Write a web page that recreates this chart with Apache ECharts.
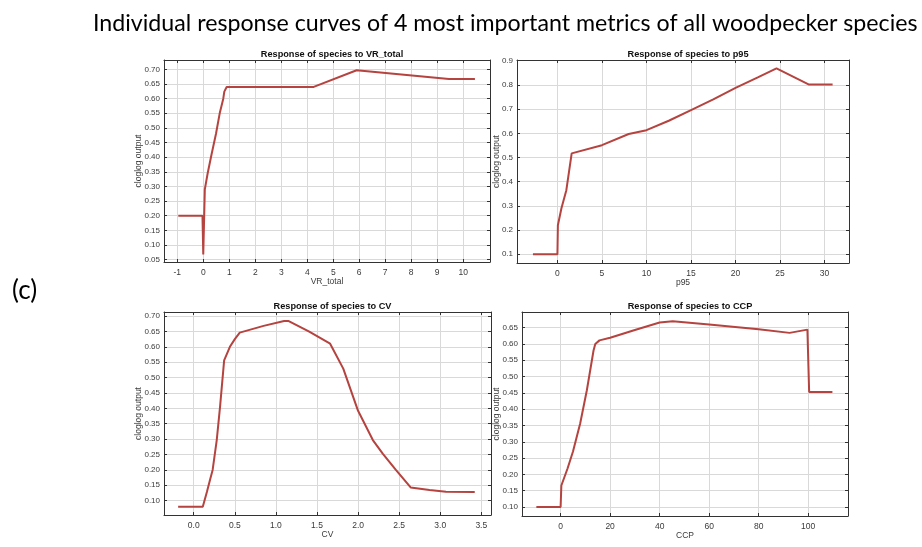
<!DOCTYPE html>
<html>
<head>
<meta charset="utf-8">
<script src="https://cdn.jsdelivr.net/npm/echarts@6/dist/echarts.min.js"></script>
<style>
  html, body { margin: 0; padding: 0; background: #fff; }
  #chart { width: 922px; height: 547px; }
</style>
</head>
<body>
<div id="chart"></div>
<script>
// Response curves (x, cloglog output) for each metric
const vrTotal = [[-0.96,0.200],[-0.03,0.200],[0.00,0.068],[0.06,0.290],[0.17,0.345],[0.32,0.410],[0.49,0.480],[0.64,0.553],[0.77,0.600],[0.81,0.624],[0.90,0.640],[4.25,0.640],[5.90,0.697],[9.45,0.667],[10.45,0.667]];
const p95 = [[-2.75,0.100],[0.00,0.100],[0.05,0.220],[0.45,0.290],[1.00,0.365],[1.60,0.517],[5.00,0.551],[8.00,0.597],[10.00,0.613],[12.50,0.652],[15.00,0.696],[17.50,0.740],[20.00,0.788],[22.50,0.831],[24.60,0.868],[28.20,0.802],[30.90,0.802]];
const cv = [[-0.19,0.080],[0.11,0.080],[0.16,0.128],[0.20,0.170],[0.23,0.200],[0.28,0.297],[0.32,0.405],[0.37,0.556],[0.44,0.600],[0.50,0.625],[0.56,0.646],[0.85,0.668],[1.10,0.684],[1.15,0.684],[1.40,0.650],[1.66,0.610],[1.82,0.529],[2.00,0.392],[2.18,0.297],[2.30,0.253],[2.46,0.200],[2.64,0.143],[2.87,0.135],[3.07,0.129],[3.42,0.128]];
const ccp = [[-9.8,0.100],[0.0,0.100],[0.3,0.166],[2.8,0.218],[5.0,0.270],[7.9,0.356],[10.6,0.458],[13.3,0.580],[14.0,0.600],[15.7,0.611],[20.0,0.619],[30.0,0.643],[40.0,0.666],[45.3,0.670],[60.0,0.660],[80.0,0.645],[92.5,0.634],[99.7,0.644],[100.4,0.453],[109.8,0.453]];

// Tick positions
const vrTotalXTicks = [-1,0,1,2,3,4,5,6,7,8,9,10];
const vrTotalYTicks = [0.05,0.10,0.15,0.20,0.25,0.30,0.35,0.40,0.45,0.50,0.55,0.60,0.65,0.70];
const p95XTicks = [0,5,10,15,20,25,30];
const p95YTicks = [0.1,0.2,0.3,0.4,0.5,0.6,0.7,0.8,0.9];
const cvXTicks = [0,0.5,1,1.5,2,2.5,3,3.5];
const cvYTicks = [0.10,0.15,0.20,0.25,0.30,0.35,0.40,0.45,0.50,0.55,0.60,0.65,0.70];
const ccpXTicks = [0,20,40,60,80,100];
const ccpYTicks = [0.10,0.15,0.20,0.25,0.30,0.35,0.40,0.45,0.50,0.55,0.60,0.65];

const panels = [
  { title: 'Response of species to VR_total', xName: 'VR_total', data: vrTotal,
    box: [164, 60, 326, 202], xRange: [-1.51, 11.03], yRange: [0.042, 0.732],
    xTicks: vrTotalXTicks, yTicks: vrTotalYTicks, xDec: 0, yDec: 2, yNameGap: 20.5, yLabelMargin: 4 },
  { title: 'Response of species to p95', xName: 'p95', data: p95,
    box: [517, 60, 332, 203], xRange: [-4.54, 32.74], yRange: [0.064, 0.903],
    xTicks: p95XTicks, yTicks: p95YTicks, xDec: 0, yDec: 1, yNameGap: 16, yLabelMargin: 4 },
  { title: 'Response of species to CV', xName: 'CV', data: cv,
    box: [164, 312, 327, 203], xRange: [-0.362, 3.618], yRange: [0.0535, 0.713],
    xTicks: cvXTicks, yTicks: cvYTicks, xDec: 1, yDec: 2, yNameGap: 20.5, yLabelMargin: 4 },
  { title: 'Response of species to CCP', xName: 'CCP', data: ccp,
    box: [522, 312, 326, 204], xRange: [-15.6, 116.1], yRange: [0.0724, 0.698],
    xTicks: ccpXTicks, yTicks: ccpYTicks, xDec: 0, yDec: 2, yNameGap: 20.5, yLabelMargin: 4 }
];

const AXIS_COLOR = '#333333';
const GRID_COLOR = '#d9d9d9';
const LABEL_COLOR = '#3a3a3a';
const LINE_COLOR = '#b5433f';
const FONT = 'Liberation Sans, Arial, sans-serif';

const grids = [], xAxes = [], yAxes = [], series = [], titles = [];

panels.forEach(function (p, i) {
  grids.push({ left: p.box[0], top: p.box[1], width: p.box[2], height: p.box[3], containLabel: false });

  titles.push({
    text: p.title, left: p.box[0] + p.box[2] / 2, top: p.box[1] - 15, textAlign: 'center',
    textStyle: { fontFamily: FONT, fontSize: 9.2, fontWeight: 'bold', color: '#111' }
  });

  const tickStyle = { show: true, inside: true, length: 3, lineStyle: { color: AXIS_COLOR, width: 1 } };
  const lineStyle = { show: true, onZero: false, lineStyle: { color: AXIS_COLOR, width: 1 } };

  // bottom x axis
  xAxes.push({
    type: 'value', gridIndex: i, position: 'bottom', min: p.xRange[0], max: p.xRange[1],
    name: p.xName, nameLocation: 'middle', nameGap: 15, nameMoveOverlap: false,
    nameTextStyle: { fontFamily: FONT, fontSize: 8.5, color: LABEL_COLOR },
    axisLine: lineStyle,
    axisTick: Object.assign({ customValues: p.xTicks }, tickStyle),
    axisLabel: { customValues: p.xTicks, margin: 6, fontFamily: FONT, fontSize: 8.5, color: LABEL_COLOR,
      formatter: function (v) { return v.toFixed(p.xDec); } },
    splitLine: { show: true, lineStyle: { color: GRID_COLOR, width: 1 } }
  });
  // top x axis (box edge with mirrored ticks)
  xAxes.push({
    type: 'value', gridIndex: i, position: 'top', min: p.xRange[0], max: p.xRange[1],
    axisLine: lineStyle,
    axisTick: Object.assign({ customValues: p.xTicks }, tickStyle),
    axisLabel: { show: false }, splitLine: { show: false }
  });
  // left y axis
  yAxes.push({
    type: 'value', gridIndex: i, position: 'left', min: p.yRange[0], max: p.yRange[1],
    name: 'cloglog output', nameLocation: 'middle', nameGap: p.yNameGap, nameRotate: 90,
    nameMoveOverlap: false,
    nameTextStyle: { fontFamily: FONT, fontSize: 8.5, color: LABEL_COLOR },
    axisLine: lineStyle,
    axisTick: Object.assign({ customValues: p.yTicks }, tickStyle),
    axisLabel: { customValues: p.yTicks, margin: p.yLabelMargin, fontFamily: FONT, fontSize: 8, color: LABEL_COLOR,
      formatter: function (v) { return v.toFixed(p.yDec); } },
    splitLine: { show: true, lineStyle: { color: GRID_COLOR, width: 1 } }
  });
  // right y axis (box edge with mirrored ticks)
  yAxes.push({
    type: 'value', gridIndex: i, position: 'right', min: p.yRange[0], max: p.yRange[1],
    axisLine: lineStyle,
    axisTick: Object.assign({ customValues: p.yTicks }, tickStyle),
    axisLabel: { show: false }, splitLine: { show: false }
  });

  series.push({
    type: 'line', xAxisIndex: 2 * i, yAxisIndex: 2 * i, data: p.data,
    showSymbol: false, symbol: 'none', silent: true,
    lineStyle: { color: LINE_COLOR, width: 2 }
  });
});

const chart = echarts.init(document.getElementById('chart'), null, { renderer: 'canvas' });
chart.setOption({
  animation: false,
  backgroundColor: '#ffffff',
  title: titles,
  grid: grids,
  xAxis: xAxes,
  yAxis: yAxes,
  series: series,
  graphic: [
    { type: 'text', left: 93, top: 12,
      style: { text: 'Individual response curves of 4 most important metrics of all woodpecker species',
        font: '23.2px Lato, "Open Sans", sans-serif', fill: '#000' } },
    { type: 'text', left: 12, top: 278,
      style: { text: '(c)', font: '26px Lato, "Open Sans", sans-serif', fill: '#000' } }
  ]
});
</script>
</body>
</html>
